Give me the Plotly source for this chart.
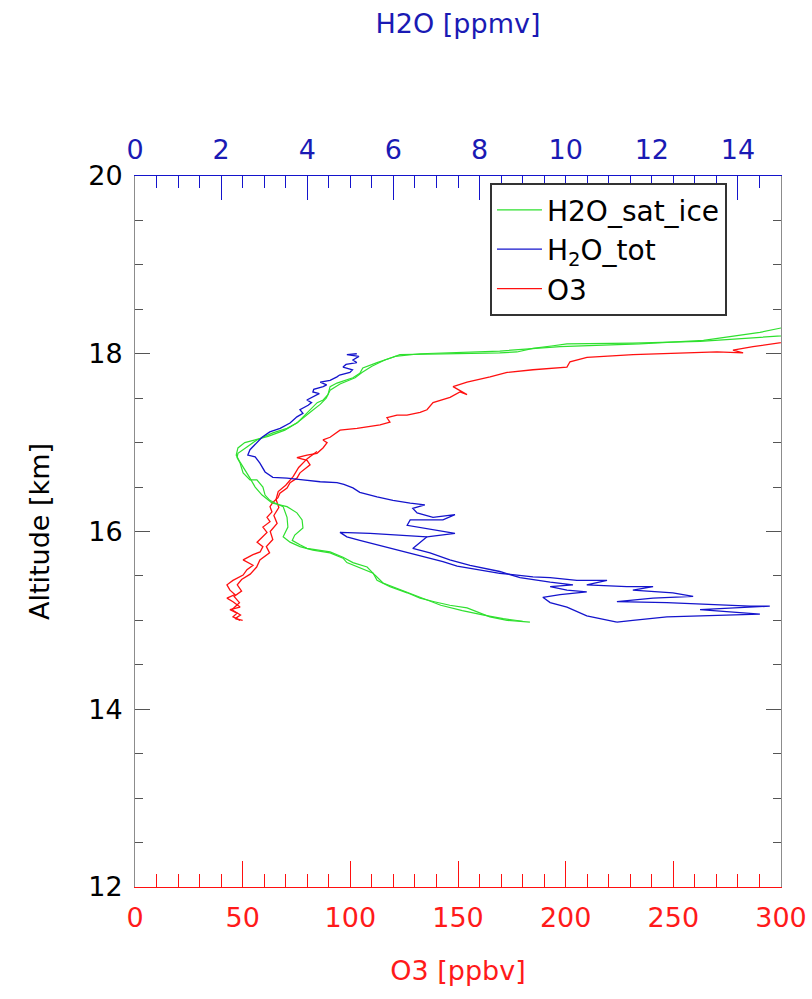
import plotly.graph_objects as go

# ---------------- data (value, altitude km) ----------------
# H2O saturation over ice [ppmv] (top axis) - two branches of the profile
sat_ice_branch1 = [(15.6, 18.22), (14.67, 18.19), (13.88, 18.17), (13.12, 18.14), (11.56, 18.12), (10.03, 18.11),
                   (9.71, 18.09), (9.24, 18.06), (8.87, 18.02), (8.47, 18.01), (6.15, 17.99), (5.99, 17.96),
                   (5.62, 17.90), (5.29, 17.84), (5.22, 17.78), (5.06, 17.73), (4.69, 17.67), (4.53, 17.63),
                   (4.48, 17.54), (4.37, 17.48), (4.23, 17.45), (3.99, 17.33), (3.76, 17.22), (3.53, 17.16),
                   (3.20, 17.11), (2.97, 17.06), (2.83, 17.03), (2.60, 16.95), (2.39, 16.88), (2.37, 16.83),
                   (2.44, 16.77), (2.51, 16.66), (2.67, 16.58), (2.83, 16.58), (2.97, 16.50), (3.02, 16.41),
                   (3.13, 16.35), (3.25, 16.32), (3.44, 16.28), (3.53, 16.16), (3.55, 16.05), (3.44, 15.94),
                   (3.60, 15.88), (3.83, 15.83), (4.13, 15.79), (4.53, 15.76), (4.83, 15.70), (4.92, 15.65),
                   (5.22, 15.59), (5.53, 15.53), (5.62, 15.45), (5.92, 15.38), (6.32, 15.31), (6.62, 15.25),
                   (6.95, 15.21), (7.31, 15.17), (7.71, 15.14), (8.01, 15.08), (8.24, 15.04), (8.64, 15.00),
                   (9.17, 14.98)]
sat_ice_branch2 = [(9.00, 14.99), (8.55, 15.02), (8.10, 15.06), (7.60, 15.11), (7.10, 15.17), (6.62, 15.26),
                   (6.15, 15.34), (5.76, 15.42), (5.57, 15.51), (5.39, 15.60), (5.06, 15.65), (4.83, 15.71),
                   (4.53, 15.77), (3.99, 15.81), (3.83, 15.85), (3.65, 15.90), (3.71, 15.96), (3.90, 16.04),
                   (3.88, 16.13), (3.76, 16.21), (3.53, 16.28), (3.18, 16.32), (2.95, 16.41), (2.79, 16.50),
                   (2.67, 16.60), (2.55, 16.69), (2.44, 16.78), (2.35, 16.86), (2.39, 16.94), (2.55, 17.00),
                   (2.79, 17.03), (3.09, 17.07), (3.48, 17.14), (3.78, 17.23), (4.06, 17.34), (4.30, 17.43),
                   (4.44, 17.50), (4.53, 17.59), (4.76, 17.66), (5.11, 17.73), (5.27, 17.79), (5.50, 17.86),
                   (5.80, 17.93), (6.04, 17.97), (6.62, 18.00), (8.47, 18.03), (9.87, 18.08), (11.72, 18.11),
                   (13.20, 18.15), (13.90, 18.20), (14.51, 18.24), (15.00, 18.29), (15.6, 18.32)]

# Total water H2O [ppmv] (top axis)
h2o_tot_branch1 = [(5.15, 18.00), (4.92, 17.99), (5.20, 17.97), (5.06, 17.93), (5.15, 17.90), (4.90, 17.88),
                   (4.83, 17.85), (5.05, 17.82), (4.99, 17.79), (4.75, 17.76), (4.69, 17.74), (4.53, 17.70),
                   (4.30, 17.68), (4.45, 17.65), (4.37, 17.63), (4.15, 17.60), (4.13, 17.57), (4.28, 17.55),
                   (4.23, 17.54), (3.99, 17.48), (4.10, 17.45), (4.02, 17.42), (3.83, 17.37), (3.90, 17.33),
                   (3.76, 17.29), (3.60, 17.22), (3.37, 17.16), (3.13, 17.12), (2.95, 17.06), (2.83, 17.00),
                   (2.67, 16.92), (2.62, 16.86), (2.79, 16.84), (2.90, 16.77), (3.02, 16.67), (3.20, 16.61),
                   (3.53, 16.60), (3.90, 16.58), (4.30, 16.56), (4.69, 16.55), (4.85, 16.53), (5.06, 16.49),
                   (5.22, 16.44), (5.62, 16.39), (5.99, 16.35), (6.39, 16.32), (6.73, 16.30), (6.45, 16.26),
                   (6.55, 16.21), (6.92, 16.16), (7.43, 16.19), (7.15, 16.13), (6.39, 16.13), (6.32, 16.07),
                   (6.92, 16.02), (7.43, 15.98), (6.78, 15.94), (5.46, 15.98), (4.76, 15.99), (4.92, 15.94),
                   (5.22, 15.90), (5.62, 15.85), (6.08, 15.79), (6.45, 15.74), (6.78, 15.70), (7.15, 15.66),
                   (7.48, 15.61), (7.94, 15.57), (8.47, 15.53), (9.24, 15.49), (9.64, 15.48), (10.26, 15.45),
                   (10.96, 15.45), (10.49, 15.40), (11.42, 15.38), (12.03, 15.38), (11.56, 15.34), (12.49, 15.31),
                   (12.96, 15.27), (12.03, 15.25), (11.19, 15.21), (12.35, 15.20), (14.28, 15.16), (14.74, 15.16),
                   (13.12, 15.12), (14.51, 15.07), (12.35, 15.04), (11.56, 15.00), (11.19, 14.98)]
h2o_tot_branch2 = [(11.19, 14.98), (10.49, 15.05), (10.03, 15.15), (9.64, 15.20), (9.47, 15.26), (9.87, 15.29),
                   (10.49, 15.32), (10.03, 15.34), (9.64, 15.38), (10.17, 15.40), (9.64, 15.43), (8.94, 15.48),
                   (8.47, 15.55), (7.78, 15.62), (7.31, 15.68), (6.85, 15.76), (6.45, 15.81), (6.62, 15.88),
                   (6.78, 15.94)]

# Ozone O3 [ppbv] (bottom axis)
o3_branch1 = [(48.8, 15.00), (45.5, 15.04), (47.4, 15.08), (44.1, 15.12), (48.8, 15.15), (45.5, 15.21),
              (42.7, 15.25), (46.4, 15.29), (44.1, 15.34), (42.7, 15.40), (45.5, 15.45), (50.2, 15.51),
              (52.0, 15.57), (54.8, 15.62), (50.2, 15.68), (54.8, 15.74), (58.1, 15.77), (59.4, 15.83),
              (56.7, 15.88), (59.4, 15.94), (61.3, 15.99), (59.4, 16.05), (62.7, 16.11), (61.3, 16.16),
              (63.6, 16.22), (62.7, 16.28), (64.1, 16.33), (66.4, 16.38), (67.3, 16.43), (70.6, 16.49),
              (72.0, 16.55), (75.2, 16.60), (76.6, 16.66), (81.3, 16.75), (79.9, 16.80), (75.2, 16.83),
              (79.9, 16.86), (84.5, 16.88), (87.3, 16.94), (89.2, 17.00), (87.3, 17.03), (90.6, 17.06),
              (93.8, 17.11), (95.2, 17.14), (103.1, 17.16), (107.7, 17.18), (113.8, 17.20), (118.4, 17.23),
              (117.0, 17.28), (121.7, 17.31), (126.3, 17.31), (132.4, 17.34), (135.6, 17.37), (138.4, 17.45),
              (146.3, 17.51), (150.9, 17.57), (154.2, 17.54), (147.7, 17.63), (154.2, 17.68), (164.9, 17.74),
              (172.8, 17.79), (184.8, 17.82), (197.4, 17.84), (200.6, 17.85), (202.0, 17.91), (209.9, 17.96),
              (231.3, 17.99), (262.4, 18.01), (270.3, 18.02), (282.4, 18.01), (277.7, 18.04), (287.0, 18.08),
              (293.5, 18.10), (299.5, 18.12), (310.0, 18.16)]
o3_branch2 = [(84.5, 16.90), (80.0, 16.82), (76.0, 16.72), (73.5, 16.62), (70.0, 16.52), (66.5, 16.45),
              (65.5, 16.36), (66.8, 16.27), (64.5, 16.18), (66.0, 16.09), (62.8, 16.00), (64.0, 15.91),
              (61.0, 15.83), (62.5, 15.76), (58.0, 15.68), (56.5, 15.60), (53.5, 15.52), (49.5, 15.46),
              (47.5, 15.40), (49.5, 15.33), (46.0, 15.27), (48.5, 15.20), (45.0, 15.12), (49.0, 15.06),
              (46.5, 15.02), (50.0, 15.00)]

series_names = ["H2O_sat_ice", "H<sub>2</sub>O_tot", "O3"]
o3_ticks = [0, 50, 100, 150, 200, 250, 300]
h2o_ticks = [0, 2, 4, 6, 8, 10, 12, 14]
alt_ticks = [12, 14, 16, 18, 20]

# ---------------- styling ----------------
FONT = "DejaVu Sans, Liberation Sans, Arial, sans-serif"
GREEN = "#2fe02f"
BLUE = "#1414cc"
RED = "#ff1010"
BLUE_TXT = "#1a1ab4"
RED_TXT = "#ff1a1a"
GRAY = "#8c8c8c"
TICK_SIZE = 27
TITLE_SIZE = 27
LEGEND_SIZE = 28


def join(*branches):
    xs, ys = [], []
    for i, b in enumerate(branches):
        if i:
            xs.append(None)
            ys.append(None)
        xs += [p[0] for p in b]
        ys += [p[1] for p in b]
    return xs, ys


fig = go.Figure()
gx, gy = join(sat_ice_branch1, sat_ice_branch2)
bx, by = join(h2o_tot_branch1, h2o_tot_branch2)
rx, ry = join(o3_branch1, o3_branch2)

fig.add_trace(go.Scatter(x=gx, y=gy, xaxis="x2", yaxis="y", mode="lines", name=series_names[0],
                         line=dict(color=GREEN, width=1.2), connectgaps=False))
fig.add_trace(go.Scatter(x=bx, y=by, xaxis="x2", yaxis="y", mode="lines", name=series_names[1],
                         line=dict(color=BLUE, width=1.3), connectgaps=False))
fig.add_trace(go.Scatter(x=rx, y=ry, xaxis="x", yaxis="y", mode="lines", name=series_names[2],
                         line=dict(color=RED, width=1.3), connectgaps=False))

fig.update_layout(
    width=812, height=999,
    margin=dict(l=135, r=31, t=176, b=112),
    paper_bgcolor="white", plot_bgcolor="white",
    font=dict(family=FONT, size=TICK_SIZE, color="black"),
    showlegend=True,
    legend=dict(x=0.5495, y=0.99, xanchor="left", yanchor="top",
                bgcolor="white", bordercolor="#333333", borderwidth=2,
                font=dict(family=FONT, size=LEGEND_SIZE, color="black"),
                tracegroupgap=0, itemwidth=45),
    xaxis=dict(range=[0, 300], side="bottom", tickvals=o3_ticks, ticks="inside", ticklen=26,
               tickwidth=1, tickcolor=RED, showline=True, linecolor=RED, linewidth=1,
               tickfont=dict(color=RED_TXT, size=TICK_SIZE), showgrid=False, zeroline=False,
               minor=dict(ticks="inside", ticklen=13, dtick=10, tickcolor=RED, showgrid=False),
               ticklabelstandoff=7,
               title=dict(text="O3 [ppbv]", font=dict(color=RED_TXT, size=TITLE_SIZE), standoff=28),
               automargin=False),
    xaxis2=dict(range=[0, 15], overlaying="x", side="top", anchor="y", tickvals=h2o_ticks,
                ticks="inside", ticklen=24, tickwidth=1, tickcolor=BLUE, showline=True,
                linecolor=BLUE, linewidth=1, tickfont=dict(color=BLUE_TXT, size=TICK_SIZE),
                showgrid=False, zeroline=False,
                minor=dict(ticks="inside", ticklen=12, dtick=0.5, tickcolor=BLUE, showgrid=False),
                ticklabelstandoff=5,
                title=dict(text="H2O [ppmv]", font=dict(color=BLUE_TXT, size=TITLE_SIZE), standoff=92),
                automargin=False),
    yaxis=dict(range=[12, 20], tickvals=alt_ticks, ticks="inside", ticklen=15, tickwidth=1,
               tickcolor="#555555", showline=True, linecolor=GRAY, linewidth=1, mirror="ticks",
               tickfont=dict(color="black", size=TICK_SIZE), showgrid=False, zeroline=False,
               minor=dict(ticks="inside", ticklen=8, dtick=0.5, tickcolor="#555555", showgrid=False),
               ticklabelstandoff=6,
               title=dict(text="Altitude [km]", font=dict(color="black", size=TITLE_SIZE), standoff=30),
               automargin=False),
)

fig.write_html("out.html")
